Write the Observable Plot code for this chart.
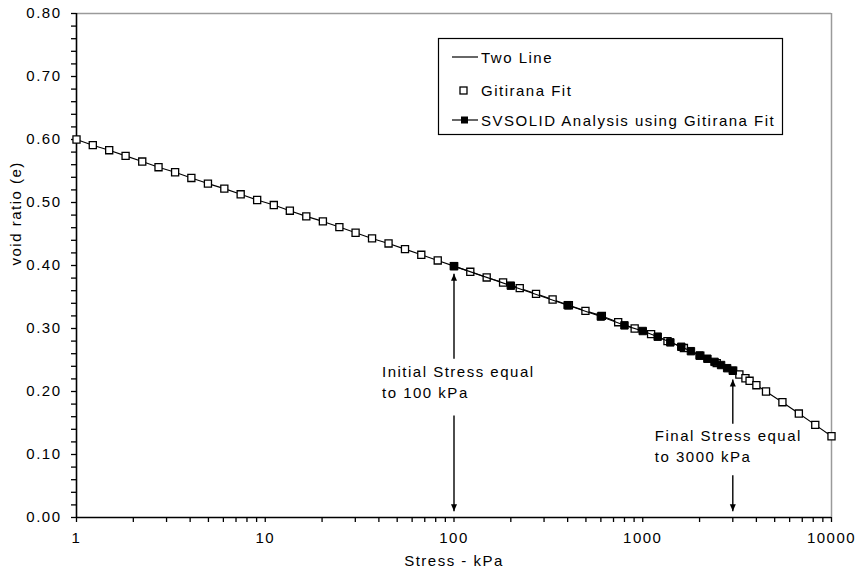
<!DOCTYPE html>
<html><head><meta charset="utf-8">
<script src="https://cdn.jsdelivr.net/npm/d3@7"></script>
<script src="https://cdn.jsdelivr.net/npm/@observablehq/plot@0.6"></script>
<style>
body{margin:0;background:#fff;}
#chart{position:relative;width:855px;height:576px;font-family:"Liberation Sans",Arial,sans-serif;}
#chart svg text{letter-spacing:1.5px;}
#legend{position:absolute;left:438px;top:38px;}
</style></head><body><div id="chart"></div>
<script>
// Gitirana Fit points (stress kPa, void ratio)
const gitiranaStress = [1, 1.22, 1.49, 1.82, 2.23, 2.72, 3.33, 4.06, 4.97, 6.07, 7.41, 9.06, 11.1, 13.5, 16.5, 20.2, 24.7, 30.1, 36.8, 45.0, 55.0, 67.1, 82.0, 100, 122, 149, 182, 223, 272, 333, 406, 497, 607, 741, 906, 1107, 1352, 1652, 2018, 2466, 3013, 3250, 3500, 3681, 4000, 4498, 5495, 6714, 8203, 10000];
const gitiranaE = [0.600, 0.591, 0.583, 0.574, 0.565, 0.556, 0.548, 0.539, 0.530, 0.522, 0.513, 0.504, 0.496, 0.487, 0.478, 0.470, 0.461, 0.452, 0.443, 0.435, 0.426, 0.417, 0.408, 0.399, 0.390, 0.381, 0.373, 0.364, 0.355, 0.346, 0.337, 0.328, 0.320, 0.310, 0.300, 0.291, 0.280, 0.269, 0.257, 0.245, 0.233, 0.227, 0.221, 0.217, 0.210, 0.200, 0.183, 0.165, 0.147, 0.129];
// Two Line curve
const twoLineStress = gitiranaStress;
const twoLineE = gitiranaE;
// SVSOLID analysis points
const svsolidStress = [100, 200, 400, 600, 800, 1000, 1200, 1400, 1600, 1800, 2000, 2200, 2400, 2600, 2800, 3000];
const svsolidE = [0.399, 0.368, 0.337, 0.319, 0.305, 0.296, 0.287, 0.278, 0.271, 0.264, 0.257, 0.252, 0.247, 0.242, 0.237, 0.233];
// axes
const xMajor = [1, 10, 100, 1000, 10000];
const xMinor = [2,3,4,5,6,7,8,9,20,30,40,50,60,70,80,90,200,300,400,500,600,700,800,900,2000,3000,4000,5000,6000,7000,8000,9000];
const yMajor = [0, 0.1, 0.2, 0.3, 0.4, 0.5, 0.6, 0.7, 0.8];
const yMinor = [0.02,0.04,0.06,0.08,0.12,0.14,0.16,0.18,0.22,0.24,0.26,0.28,0.32,0.34,0.36,0.38,0.42,0.44,0.46,0.48,0.52,0.54,0.56,0.58,0.62,0.64,0.66,0.68,0.72,0.74,0.76,0.78];
// annotation arrows
const arrowStress = [100, 100, 3000, 3000];
const arrowFrom = [0.252, 0.162, 0.149, 0.067];
const arrowTo = [0.387, 0.010, 0.219, 0.010];
const arrowDir = ["up", "down", "up", "down"];
// annotation texts
const noteText = ["Initial Stress equal", "to 100 kPa", "Final Stress equal", "to 3000 kPa"];
const noteStress = [100, 100, 3000, 3000];
const noteE = [0.230, 0.197, 0.129, 0.096];

const git = gitiranaStress.map((s, i) => ({s, e: gitiranaE[i]}));
const two = twoLineStress.map((s, i) => ({s, e: twoLineE[i]}));
const sv = svsolidStress.map((s, i) => ({s, e: svsolidE[i]}));
const arrows = arrowStress.map((s, i) => ({s, from: arrowFrom[i], to: arrowTo[i], dir: arrowDir[i]}));
const notes = noteText.map((t, i) => ({t, s: noteStress[i], e: noteE[i]}));

const triUp = {draw(ctx) { ctx.moveTo(0, 0); ctx.lineTo(-3, 7); ctx.lineTo(3, 7); ctx.closePath(); }};
const triDown = {draw(ctx) { ctx.moveTo(0, 0); ctx.lineTo(-3, -7); ctx.lineTo(3, -7); ctx.closePath(); }};

const chart = Plot.plot({
  width: 855, height: 576,
  marginLeft: 76, marginRight: 24, marginTop: 13, marginBottom: 59,
  style: {fontFamily: '"Liberation Sans", Arial, sans-serif', fontSize: "15px", background: "#fff", color: "#000", overflow: "visible"},
  x: {type: "log", domain: [1, 10000], axis: null},
  y: {domain: [0, 0.8], axis: null},
  marks: [
    Plot.ruleY([0.8], {stroke: "#9a9a9a", strokeWidth: 1.5}),
    Plot.ruleX([10000], {stroke: "#9a9a9a", strokeWidth: 1.5}),
    Plot.axisY(yMajor, {tickSize: 5, tickPadding: 10, tickFormat: d3.format(".2f"), label: null, strokeWidth: 1.3}),
    Plot.axisY(yMinor, {tickSize: 5, tickFormat: () => "", label: null, strokeWidth: 1.3}),
    Plot.axisX(xMajor, {tickSize: 5, tickPadding: 10, tickFormat: d => String(d), label: null, strokeWidth: 1.3}),
    Plot.axisX(xMinor, {tickSize: 5, tickFormat: () => "", label: null, strokeWidth: 1.3}),
    Plot.ruleY([0], {stroke: "#000", strokeWidth: 1.6}),
    Plot.ruleX([1], {stroke: "#000", strokeWidth: 1.6}),
    Plot.text(["void ratio (e)"], {frameAnchor: "left", rotate: -90, dx: -60, fontSize: 15}),
    Plot.text(["Stress - kPa"], {frameAnchor: "bottom", dy: 48, fontSize: 15}),
    Plot.line(two, {x: "s", y: "e", stroke: "#000", strokeWidth: 1.1}),
    Plot.dot(git, {x: "s", y: "e", symbol: "square", r: 4, fill: "#fff", stroke: "#000", strokeWidth: 1.3}),
    Plot.line(sv, {x: "s", y: "e", stroke: "#000", strokeWidth: 1.1}),
    Plot.dot(sv, {x: "s", y: "e", symbol: "square", r: 4.2, fill: "#000", stroke: "#000", strokeWidth: 1}),
    Plot.link(arrows, {x1: "s", x2: "s", y1: "from", y2: "to", stroke: "#000", strokeWidth: 1.4}),
    Plot.dot(arrows.filter(d => d.dir === "up"), {x: "s", y: "to", symbol: triUp, fill: "#000", stroke: "none"}),
    Plot.dot(arrows.filter(d => d.dir === "down"), {x: "s", y: "to", symbol: triDown, fill: "#000", stroke: "none"}),
    Plot.text(notes.filter(d => d.s === 100), {x: "s", y: "e", text: "t", dx: -72, textAnchor: "start", fontSize: 15}),
    Plot.text(notes.filter(d => d.s === 3000), {x: "s", y: "e", text: "t", dx: -78, textAnchor: "start", fontSize: 15})
  ]
});
document.getElementById("chart").appendChild(chart);

// legend
const legend = document.createElement("div");
legend.id = "legend";
legend.innerHTML = `<svg width="346" height="98" style="font-family:'Liberation Sans',Arial,sans-serif;font-size:15px;overflow:visible">
<rect x="0.5" y="0.5" width="344" height="96" fill="#fff" stroke="#000" stroke-width="1.2"/>
<line x1="14" x2="40" y1="19" y2="19" stroke="#000" stroke-width="1.2"/>
<text x="43" y="19" dominant-baseline="central" style="letter-spacing:1.5px">Two Line</text>
<rect x="22" y="49" width="7" height="7" fill="#fff" stroke="#000" stroke-width="1.3"/>
<text x="43" y="52" dominant-baseline="central" style="letter-spacing:1.5px">Gitirana Fit</text>
<line x1="14" x2="40" y1="82" y2="82" stroke="#000" stroke-width="1.2"/>
<rect x="23" y="78.5" width="7" height="7" fill="#000"/>
<text x="43" y="82" dominant-baseline="central" style="letter-spacing:1.5px">SVSOLID Analysis using Gitirana Fit</text>
</svg>`;
document.getElementById("chart").appendChild(legend);
</script>
</body></html>
